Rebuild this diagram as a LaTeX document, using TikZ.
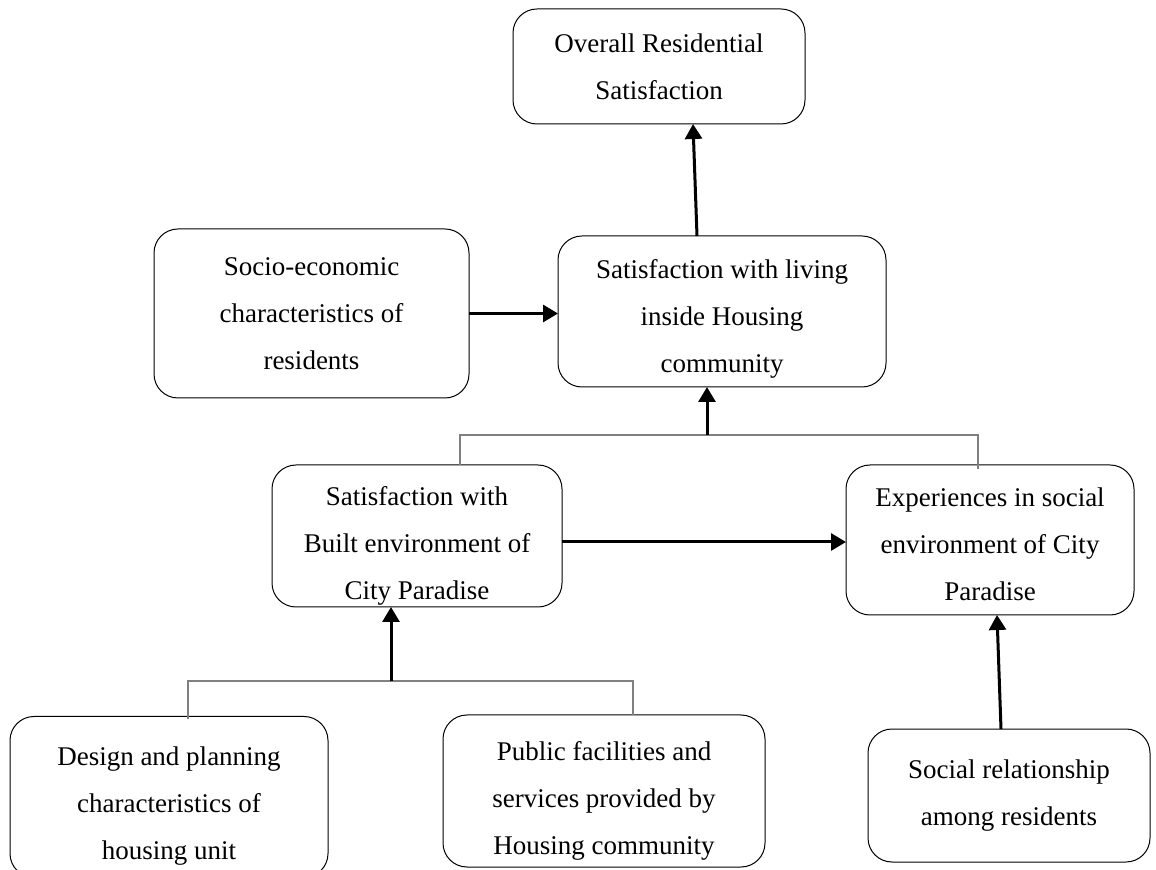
\documentclass[tikz,border=0pt]{standalone}
\usepackage{fontspec}
\setmainfont{Liberation Serif}
\usetikzlibrary{arrows.meta}
\begin{document}
\begin{tikzpicture}[x=0.5pt,y=-0.5pt,inner sep=0pt,outer sep=0pt,
>={Triangle[length=7.5pt,width=8.5pt]},
roundbox/.style={draw,rectangle,rounded corners=12pt,line width=0.5pt,align=center,font=\fontsize{13.5}{23.5}\selectfont},
flowarrow/.style={->,line width=1.5pt},
busline/.style={draw=gray,line width=0.75pt}]

\useasboundingbox (0,0) rectangle (1156,870);

\draw (659,66.5) node[roundbox,minimum width=146pt,minimum height=57.5pt] (overall) {Overall Residential\\Satisfaction};
\draw (722,311.5) node[roundbox,minimum width=164pt,minimum height=75.5pt] (living) {\rule{0pt}{16.5pt}Satisfaction with living\\inside Housing\\community};
\draw (311.5,313.5) node[roundbox,minimum width=157.5pt,minimum height=84.5pt] (socio) {Socio-economic\\characteristics of\\residents};
\draw (417,536) node[roundbox,minimum width=145pt,minimum height=71pt] (built) {\rule{0pt}{19.5pt}Satisfaction with\\Built environment of\\City Paradise};
\draw (990,540) node[roundbox,minimum width=144pt,minimum height=75pt] (exper) {\rule{0pt}{13.5pt}Experiences in social\\environment of City\\Paradise};
\draw (169,797) node[roundbox,minimum width=159pt,minimum height=80.5pt] (design) {\rule{0pt}{18.5pt}Design and planning\\characteristics of\\housing unit};
\draw (604,791) node[roundbox,minimum width=161pt,minimum height=76pt] (public) {\rule{0pt}{19.5pt}Public facilities and\\services provided by\\Housing community};
\draw (1009,795.5) node[roundbox,minimum width=141pt,minimum height=66.5pt] (relation) {Social relationship\\among residents};

% upper bus
\coordinate (upbus) at (707,435);
\draw[busline] ([xshift=21.5pt]built.north) |- (upbus) -| ([xshift=-6pt,yshift=-2pt]exper.north);
\draw[flowarrow] (upbus) -- (living.south -| upbus);
\draw[flowarrow] ([xshift=-12.5pt]living.north) -- ([xshift=17pt]overall.south);
\draw[flowarrow] (socio.east) -- (socio.east -| living.west);
\draw[flowarrow] ([yshift=-3pt]built.east) -- ([yshift=-3pt]built.east -| exper.west);

% lower bus
\coordinate (lowbus) at (391,681);
\draw[busline] ([xshift=9.5pt,yshift=-1.5pt]design.north) |- (lowbus) -| ([xshift=14.5pt]public.north);
\draw[flowarrow] (lowbus) -- ([xshift=-13pt]built.south);
\draw[flowarrow] ([xshift=-4pt]relation.north) -- ([xshift=3.5pt]exper.south);
\end{tikzpicture}
\end{document}
